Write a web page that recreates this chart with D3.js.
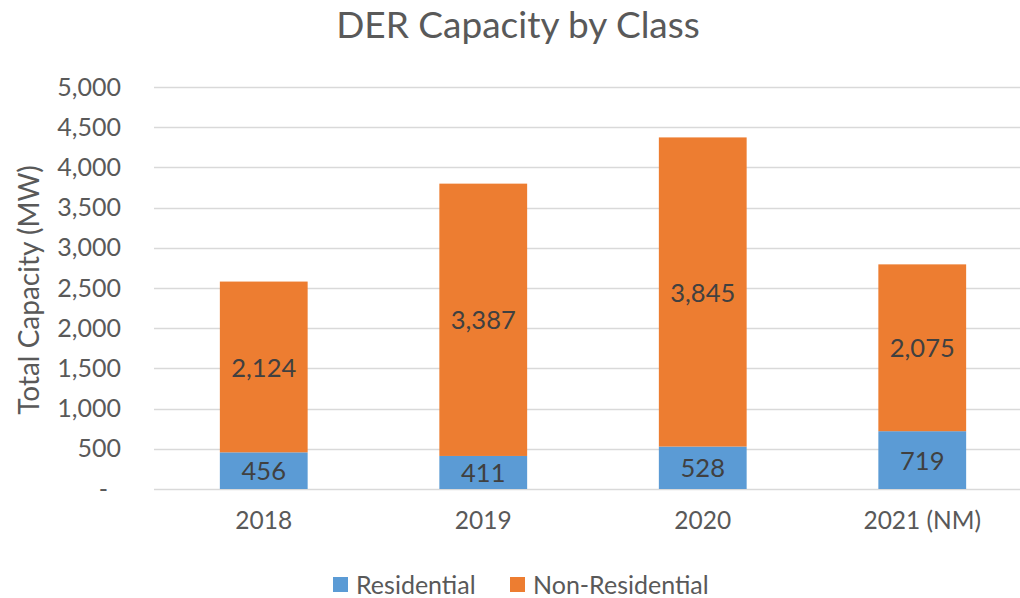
<!DOCTYPE html>
<html>
<head>
<meta charset="utf-8">
<script src="https://cdn.jsdelivr.net/npm/d3@7"></script>
<style>
  body { margin: 0; background: #fff; }
  text { font-family: Lato, "Noto Sans", sans-serif; fill: #595959; }
</style>
</head>
<body>
<div id="chart"></div>
<script>
// data
var years = ["2018", "2019", "2020", "2021 (NM)"];
var residential = [456, 411, 528, 719];
var nonResidential = [2124, 3387, 3845, 2075];
var yTicks = [0, 500, 1000, 1500, 2000, 2500, 3000, 3500, 4000, 4500, 5000];
var seriesNames = ["Residential", "Non-Residential"];
var colors = ["#5B9BD5", "#ED7D31"];

var svgWidth = 1020;
var svgHeight = 598;

var svg = d3.select("#chart").append("svg")
  .attr("width", svgWidth)
  .attr("height", svgHeight);

// plot area (runs a bit past the right edge, like the original)
var x = d3.scaleBand()
  .domain(years)
  .range([154, 1032])
  .paddingInner(0.6)
  .paddingOuter(0.3);

var y = d3.scaleLinear()
  .domain([0, 5000])
  .range([489, 87]);

// gridlines
svg.append("g")
  .selectAll("line")
  .data(yTicks)
  .enter()
  .append("line")
  .attr("x1", 154)
  .attr("x2", svgWidth)
  .attr("y1", d => Math.round(y(d)) + 0.5)
  .attr("y2", d => Math.round(y(d)) + 0.5)
  .attr("stroke", "#D9D9D9")
  .attr("stroke-width", 1.5);

// y axis labels (zero shown as a dash, indented like accounting format)
var fmt = d3.format(",");
var yAxis = svg.append("g")
  .attr("transform", "translate(121,0)")
  .call(d3.axisLeft(y).tickValues(yTicks).tickSize(0).tickPadding(0)
    .tickFormat(d => d === 0 ? "-" : fmt(d)));
yAxis.select(".domain").remove();
yAxis.selectAll("text")
  .attr("font-size", "25px")
  .attr("fill", "#595959")
  .style("font-family", "Lato, sans-serif");
yAxis.selectAll(".tick text")
  .attr("x", d => d === 0 ? -13 : 0);

// x axis labels
var xAxis = svg.append("g")
  .attr("transform", "translate(0,489)")
  .call(d3.axisBottom(x).tickSize(0).tickPadding(23));
xAxis.select(".domain").remove();
xAxis.selectAll("text")
  .attr("font-size", "24.5px")
  .attr("fill", "#595959")
  .style("font-family", "Lato, sans-serif");

// stacked bars
var table = years.map((yr, i) => ({ year: yr, Residential: residential[i], "Non-Residential": nonResidential[i] }));
var stacked = d3.stack().keys(seriesNames)(table);

var layers = svg.append("g")
  .selectAll("g")
  .data(stacked)
  .enter()
  .append("g")
  .attr("fill", (d, i) => colors[i]);

layers.selectAll("rect")
  .data(d => d)
  .enter()
  .append("rect")
  .attr("x", d => x(d.data.year))
  .attr("y", d => y(d[1]))
  .attr("width", x.bandwidth())
  .attr("height", d => y(d[0]) - y(d[1]));

// value labels
layers.selectAll("text")
  .data(d => d)
  .enter()
  .append("text")
  .attr("x", d => x(d.data.year) + x.bandwidth() / 2)
  .attr("y", d => (y(d[0]) + y(d[1])) / 2)
  .attr("dy", "0.38em")
  .attr("text-anchor", "middle")
  .attr("font-size", "25.5px")
  .style("fill", "#404040")
  .text(d => fmt(d[1] - d[0]));

// title
svg.append("text")
  .attr("x", 518)
  .attr("y", 38)
  .attr("text-anchor", "middle")
  .attr("font-size", "37px")
  .text("DER Capacity by Class");

// y axis title
svg.append("text")
  .attr("transform", "translate(39,290) rotate(-90)")
  .attr("text-anchor", "middle")
  .attr("font-size", "28px")
  .text("Total Capacity (MW)");

// legend
var legendX = [333, 510];
var legend = svg.append("g")
  .selectAll("g")
  .data(seriesNames)
  .enter()
  .append("g")
  .attr("transform", (d, i) => `translate(${legendX[i]},577)`);

legend.append("rect")
  .attr("width", 15)
  .attr("height", 15)
  .attr("fill", (d, i) => colors[i]);

legend.append("text")
  .attr("x", 23)
  .attr("y", 8)
  .attr("dy", "0.36em")
  .attr("font-size", "25px")
  .text(d => d);
</script>
</body>
</html>
